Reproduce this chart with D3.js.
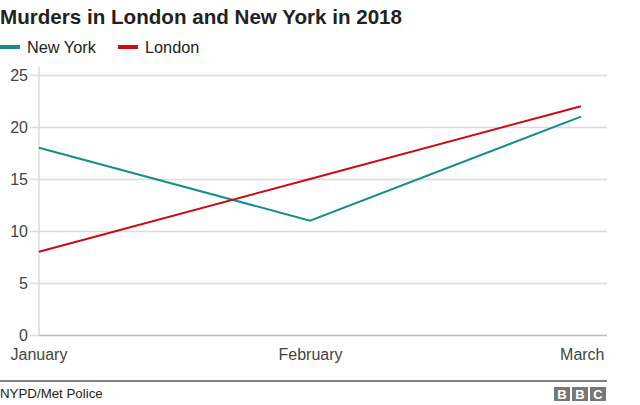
<!DOCTYPE html>
<html><head><meta charset="utf-8">
<script src="https://cdn.jsdelivr.net/npm/d3@7"></script>
<style>
html,body{margin:0;padding:0;background:#fff;}
svg{display:block;font-family:"Liberation Sans",Arial,Helvetica,sans-serif;}
</style></head>
<body>
<svg id="c" width="640" height="405"></svg>
<script>
const months = ["January", "February", "March"];
const newYork = [18, 11, 21];
const london = [8, 15, 22];
const yTicks = [0, 5, 10, 15, 20, 25];
const seriesNames = ["New York", "London"];
const seriesColors = ["#198c8c", "#cc0a11"];

const svg = d3.select("#c");
const x = d3.scalePoint().domain(months).range([39, 581]);
const y = d3.scaleLinear().domain([0, 25]).range([335, 75]);

// Title
svg.append("text").attr("x", 0).attr("y", 24)
  .attr("font-size", 20.6).attr("font-weight", "bold").attr("fill", "#222")
  .text("Murders in London and New York in 2018");

// Legend
const legX = [0, 118];
seriesNames.forEach((n, i) => {
  svg.append("rect").attr("x", legX[i]).attr("y", 45).attr("width", 20).attr("height", 4)
    .attr("fill", seriesColors[i]);
  svg.append("text").attr("x", legX[i] + 27).attr("y", 53)
    .attr("font-size", 16.3).attr("fill", "#222").text(n);
});

// Gridlines
const yAxis = d3.axisLeft(y).tickValues(yTicks).tickSize(-(607 - 39)).tickPadding(3).tickSizeOuter(0);
const gy = svg.append("g").attr("transform", "translate(39,0)").call(yAxis);
gy.select(".domain").remove();
gy.selectAll(".tick line").attr("stroke", "#dcdcdc").attr("stroke-width", 1.5);
gy.selectAll(".tick").append("line").attr("x1", -9).attr("x2", 0).attr("stroke", "#dcdcdc").attr("stroke-width", 1.5);
gy.selectAll(".tick text").attr("font-size", 16).attr("fill", "#444")
  .attr("font-family", "Liberation Sans, Arial, sans-serif").attr("x", -11);
// zero line
gy.selectAll(".tick").filter(d => d === 0).select("line").attr("stroke", "#bbb");
// y axis vertical line
svg.append("line").attr("x1", 39).attr("x2", 39).attr("y1", 67).attr("y2", 335)
  .attr("stroke", "#dcdcdc").attr("stroke-width", 1.5);

// X axis labels
const xAxis = d3.axisBottom(x).tickSize(0).tickPadding(0);
const gx = svg.append("g").attr("transform", "translate(0,348.5)").call(xAxis);
gx.select(".domain").remove();
gx.selectAll(".tick text").attr("font-size", 16).attr("fill", "#444")
  .attr("font-family", "Liberation Sans, Arial, sans-serif")
  .attr("dy", "0.71em")
  .attr("text-anchor", (d, i) => i === 0 ? "start" : i === months.length - 1 ? "end" : "middle")
  .attr("dx", (d, i) => i === 0 ? -29 : i === months.length - 1 ? 23 : 0);

// Lines
const line = d3.line().x((d, i) => x(months[i])).y(d => y(d));
[newYork, london].forEach((s, i) => {
  svg.append("path").datum(s).attr("d", line).attr("fill", "none")
    .attr("stroke", seriesColors[i]).attr("stroke-width", 2);
});

// Footer
svg.append("line").attr("x1", 0).attr("x2", 607).attr("y1", 381).attr("y2", 381)
  .attr("stroke", "#555").attr("stroke-width", 1.5);
svg.append("text").attr("x", 0).attr("y", 398).attr("font-size", 13.3).attr("fill", "#222")
  .text("NYPD/Met Police");
const bbc = ["B", "B", "C"];
bbc.forEach((l, i) => {
  const bx = 554 + i * 18;
  svg.append("rect").attr("x", bx).attr("y", 387).attr("width", 16).attr("height", 14).attr("fill", "#777");
  svg.append("text").attr("x", bx + 8).attr("y", 399).attr("text-anchor", "middle")
    .attr("font-size", 13).attr("font-weight", "bold").attr("fill", "#fff").text(l);
});
</script>
</body></html>
